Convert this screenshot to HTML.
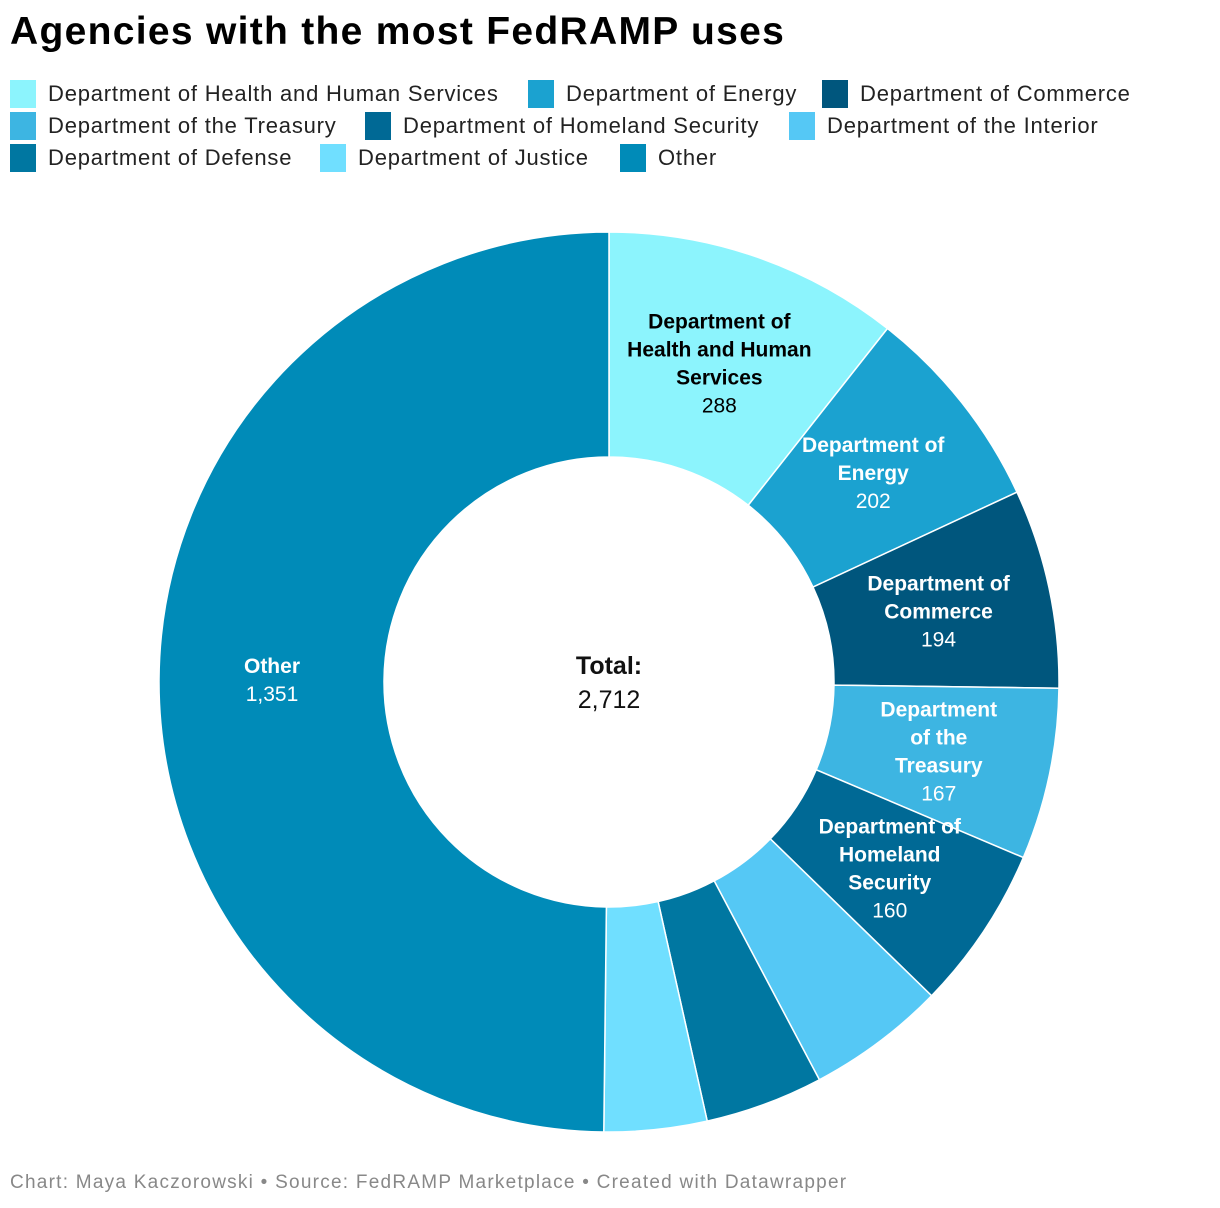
<!DOCTYPE html>
<html><head><meta charset="utf-8">
<style>
body{margin:0;width:1220px;height:1208px;background:#fff;font-family:"Liberation Sans",Arial,sans-serif;position:relative;overflow:hidden}
#title{position:absolute;left:10px;top:10px;font-size:39px;font-weight:bold;color:#000;letter-spacing:1.3px}
.leg{position:absolute;height:28px;display:flex;align-items:center;font-size:22px;color:#222;white-space:nowrap;letter-spacing:0.8px}
.leg span.sw{width:26px;height:28px;margin-right:12px;display:inline-block}
#foot{position:absolute;left:10px;top:1172px;font-size:19px;color:#888;letter-spacing:1.25px}
</style></head><body>
<div id="title">Agencies with the most FedRAMP uses</div>
<div id="legend"></div>
<svg id="chart" width="1220" height="1208" style="position:absolute;left:0;top:0"></svg>
<div id="foot">Chart: Maya Kaczorowski • Source: FedRAMP Marketplace • Created with Datawrapper</div>
<script>
const categories=["Department of Health and Human Services","Department of Energy","Department of Commerce","Department of the Treasury","Department of Homeland Security","Department of the Interior","Department of Defense","Department of Justice","Other"];
const values=[288,202,194,167,160,135,115,100,1351];
const colors=["#8cf4fd","#1ba2d0","#00567d","#3db5e2","#006995","#55c8f5","#0077a1","#70dfff","#008bb8"];
const labelLines=[["Department of","Health and Human","Services"],["Department of","Energy"],["Department of","Commerce"],["Department","of the","Treasury"],["Department of","Homeland","Security"],null,null,null,["Other"]];
const legendPos=[[10,80],[528,80],[822,80],[10,112],[365,112],[789,112],[10,144],[320,144],[620,144]];
const NS="http://www.w3.org/2000/svg";
const svg=document.getElementById('chart');
const cx=609,cy=682,R=450,r=225,LR=337;
const total=values.reduce((a,b)=>a+b,0);
function pt(a,rad){return [cx+rad*Math.sin(a),cy-rad*Math.cos(a)];}
const leg=document.getElementById('legend');
categories.forEach((c,i)=>{
  const d=document.createElement('div');d.className='leg';
  
  
  d.style.left=legendPos[i][0]+'px';d.style.top=legendPos[i][1]+'px';
  d.innerHTML='<span class="sw" style="background:'+colors[i]+'"></span>'+c;
  leg.appendChild(d);
});
let acc=0;
values.forEach((v,i)=>{
  const a0=acc/total*2*Math.PI;acc+=v;const a1=acc/total*2*Math.PI;
  const large=(a1-a0)>Math.PI?1:0;
  const [x0,y0]=pt(a0,R),[x1,y1]=pt(a1,R),[x2,y2]=pt(a1,r),[x3,y3]=pt(a0,r);
  const p=document.createElementNS(NS,'path');
  p.setAttribute('d',`M${x0},${y0}A${R},${R} 0 ${large} 1 ${x1},${y1}L${x2},${y2}A${r},${r} 0 ${large} 0 ${x3},${y3}Z`);
  p.setAttribute('fill',colors[i]);p.setAttribute('stroke','#fff');p.setAttribute('stroke-width','1.5');
  
  
  svg.appendChild(p);
  if(labelLines[i]){
    const am=(a0+a1)/2;const [lx,ly]=pt(am,LR);
    const lines=labelLines[i];const n=lines.length+1;
    const startY=ly-(n-1)*28/2+7;
    const t=document.createElementNS(NS,'text');
    t.setAttribute('text-anchor','middle');t.setAttribute('font-size','21');
    t.setAttribute('fill',i===0?'#000':'#fff');
    
    
    lines.forEach((ln,k)=>{const s=document.createElementNS(NS,'tspan');s.setAttribute('x',lx);s.setAttribute('y',startY+k*28);s.setAttribute('font-weight','bold');s.textContent=ln;t.appendChild(s);});
    const s=document.createElementNS(NS,'tspan');s.setAttribute('x',lx);s.setAttribute('y',startY+lines.length*28);s.textContent=values[i].toLocaleString('en-US');t.appendChild(s);
    svg.appendChild(t);
  }
});
const tt=document.createElementNS(NS,'text');
tt.setAttribute('text-anchor','middle');tt.setAttribute('font-size','25');tt.setAttribute('fill','#111');


tt.innerHTML=`<tspan x="${cx}" y="674" font-weight="bold">Total:</tspan><tspan x="${cx}" y="708">${total.toLocaleString('en-US')}</tspan>`;
svg.appendChild(tt);
</script>
</body></html>
